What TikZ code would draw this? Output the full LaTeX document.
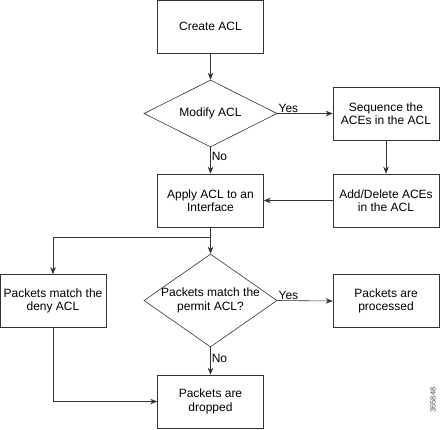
\documentclass[tikz,border=0pt]{standalone}
\usepackage{fontspec}
\setmainfont{Liberation Sans}
\usetikzlibrary{shapes.geometric,arrows.meta}

\newcommand{\lay}{
\def\xl{53}     % left column
\def\xc{210.5}  % centre column
\def\xr{386}    % right column
\def\ysplit{237}
}

\begin{document}
\begin{tikzpicture}[x=1pt,y=-1pt,
  every node/.style={font=\fontsize{12}{13.5}\selectfont},
  stepbox/.style={draw=black!80,line width=0.6pt,minimum width=106pt,minimum height=53pt,align=center,inner sep=1pt},
  choice/.style={draw=black!80,line width=0.6pt,shape=diamond,inner sep=0pt,minimum width=133pt},
  flow/.style={draw=black!80,line width=0.6pt,-{Stealth[length=7pt,width=5.5pt]}},
  tag/.style={inner sep=1pt}]
  \lay
  \useasboundingbox (0,0) rectangle (441,429);
  \node[stepbox] (create)  at (\xc,26.5)  {Create ACL};
  \node[choice,minimum height=67pt,label={center:Modify ACL}] (modify) at (\xc,113.5) {};
  \node[stepbox] (sequence) at (\xr,113.5) {Sequence the\\ACEs in the ACL};
  \node[stepbox] (adddel)  at (\xr,200.5) {Add/Delete ACEs\\in the ACL};
  \node[stepbox] (apply)   at (\xc,200.5) {Apply ACL to an\\Interface};
  \node[choice,minimum height=93pt,label={[align=center]center:Packets match the\\permit ACL?}] (permit) at (\xc,300.5) {};
  \node[stepbox] (deny)    at (\xl,301)   {Packets match the\\deny ACL};
  \node[stepbox] (process) at (\xr,301)   {Packets are\\processed};
  \node[stepbox] (drop)    at (\xc,401.5) {Packets are\\dropped};
  \coordinate (split) at (\xc,\ysplit);
%
  \draw[flow] (create) -- (modify);
  \draw[flow] (modify.east) -- node[tag,above right,pos=0] {Yes} (sequence.west);
  \draw[flow] (sequence) -- (adddel);
  \draw[flow] (adddel) -- (apply);
  \draw[flow] (modify.south) -- node[tag,right,pos=0.35] {No} (apply.north);
  \draw[draw=black!80,line width=0.6pt] (apply.south) -- (split);
  \draw[flow] (split) -- (permit.north);
  \draw[flow] (split) -| (deny.north);
  \draw[flow] (permit.east) -- node[tag,above right,pos=0] {Yes} (process.west);
  \draw[flow] (permit.south) -- node[tag,right,pos=0.4] {No} (drop.north);
  \draw[flow] (deny.south) |- (drop.west);
%
  \node[rotate=90,font=\fontsize{7.5}{8}\selectfont,text=black!70] (figno) at (433,400) {365848};
\end{tikzpicture}
\end{document}
